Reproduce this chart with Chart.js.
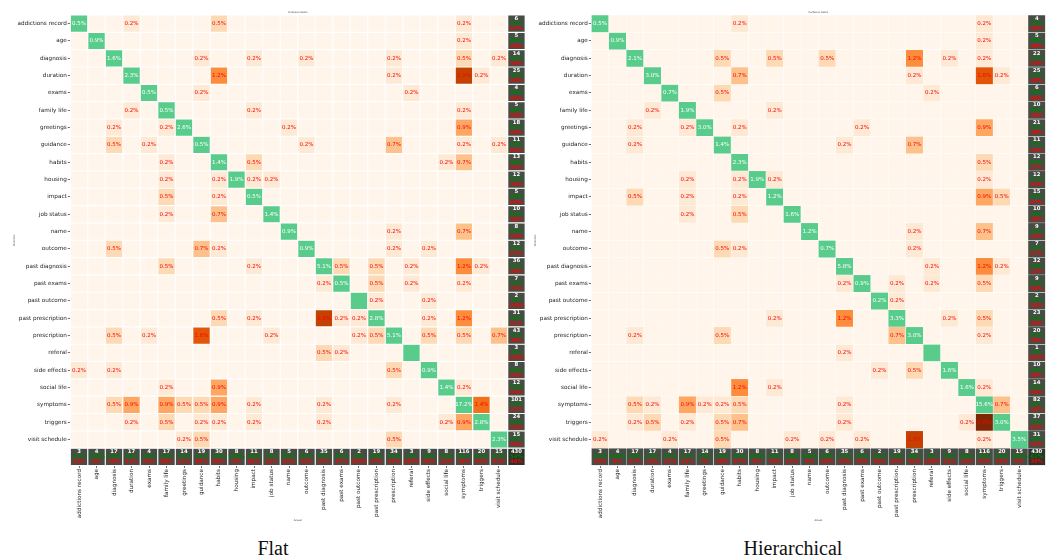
<!DOCTYPE html>
<html>
<head>
<meta charset="utf-8">
<script src="https://cdn.jsdelivr.net/npm/chart.js@4.4.0/dist/chart.umd.min.js"></script>
<style>
  body { margin: 0; background: #fff; width: 1057px; height: 559px; overflow: hidden; position: relative; }
  canvas { position: absolute; top: 0; }
  .cap { position: absolute; top: 537px; font-family: "Liberation Serif", serif; font-size: 20px; color: #111; transform: translateX(-50%); white-space: nowrap; }
</style>
</head>
<body>
<canvas id="flat" width="530" height="530" style="left:0px"></canvas>
<canvas id="hier" width="530" height="530" style="left:521px"></canvas>
<div class="cap" style="left:273px">Flat</div>
<div class="cap" style="left:793px">Hierarchical</div>
<script>
const categories = ['addictions record', 'age', 'diagnosis', 'duration', 'exams', 'family life',
  'greetings', 'guidance', 'habits', 'housing', 'impact', 'job status', 'name', 'outcome',
  'past diagnosis', 'past exams', 'past outcome', 'past prescription', 'prescription', 'referal',
  'side effects', 'social life', 'symptoms', 'triggers', 'visit schedule']

// rows = predicted, columns = actual (counts, 430 samples)
const flatCounts = [
  [2,0,0,1,0,0,0,0,2,0,0,0,0,0,0,0,0,0,0,0,0,0,1,0,0],
  [0,4,0,0,0,0,0,0,0,0,0,0,0,0,0,0,0,0,0,0,0,0,1,0,0],
  [0,0,7,0,0,0,0,1,0,0,1,0,0,1,0,0,0,0,1,0,0,0,2,0,1],
  [0,0,0,10,0,0,0,0,5,0,0,0,0,0,0,0,0,0,1,0,0,0,8,1,0],
  [0,0,0,0,2,0,0,1,0,0,0,0,0,0,0,0,0,0,0,1,0,0,0,0,0],
  [0,0,0,1,0,2,0,0,0,0,1,0,0,0,0,0,0,0,0,0,0,0,1,0,0],
  [0,0,1,0,0,1,11,0,0,0,0,0,1,0,0,0,0,0,0,0,0,0,4,0,0],
  [0,0,2,0,1,0,0,2,0,0,0,0,0,1,0,0,0,0,3,0,0,0,1,0,1],
  [0,0,0,0,0,1,0,0,6,0,2,0,0,0,0,0,0,0,0,0,0,1,3,0,0],
  [0,0,0,0,0,1,0,0,1,8,1,1,0,0,0,0,0,0,0,0,0,0,0,0,0],
  [0,0,0,0,0,2,0,0,1,0,2,0,0,0,0,0,0,0,0,0,0,0,0,0,0],
  [0,0,0,0,0,1,0,0,3,0,0,6,0,0,0,0,0,0,0,0,0,0,0,0,0],
  [0,0,0,0,0,0,0,0,0,0,0,0,4,0,0,0,0,0,1,0,0,0,3,0,0],
  [0,0,2,0,0,0,0,3,1,0,0,0,0,4,0,0,0,0,1,0,1,0,0,0,0],
  [0,0,0,0,0,2,0,0,0,0,1,0,0,0,22,2,0,2,0,1,0,0,5,1,0],
  [0,0,0,0,0,0,0,0,0,0,0,0,0,0,1,2,0,2,0,1,0,0,1,0,0],
  [0,0,0,0,0,0,0,0,0,0,0,0,0,0,0,0,0,1,0,0,1,0,0,0,0],
  [0,0,0,0,0,0,0,0,2,0,1,0,0,0,8,1,1,12,0,0,1,0,5,0,0],
  [0,0,2,0,1,0,0,7,0,0,0,1,0,0,0,0,1,2,22,0,2,0,2,0,3],
  [0,0,0,0,0,0,0,0,0,0,0,0,0,0,2,1,0,0,0,0,0,0,0,0,0],
  [1,0,1,0,0,0,0,0,0,0,0,0,0,0,0,0,0,0,2,0,4,0,0,0,0],
  [0,0,0,0,0,1,0,0,4,0,0,0,0,0,0,0,0,0,0,0,0,6,1,0,0],
  [0,0,2,4,0,4,2,2,4,0,1,0,0,0,1,0,0,0,1,0,0,0,74,6,0],
  [0,0,0,1,0,2,0,1,1,0,1,0,0,0,1,0,0,0,0,0,0,1,4,12,0],
  [0,0,0,0,0,0,1,2,0,0,0,0,0,0,0,0,0,0,2,0,0,0,0,0,10]
]

const hierCounts = [
  [2,0,0,0,0,0,0,0,1,0,0,0,0,0,0,0,0,0,0,0,0,0,1,0,0],
  [0,4,0,0,0,0,0,0,0,0,0,0,0,0,0,0,0,0,0,0,0,0,1,0,0],
  [0,0,9,0,0,0,0,2,0,0,2,0,0,2,0,0,0,0,5,0,1,0,1,0,0],
  [0,0,0,13,0,0,0,0,3,0,0,0,0,0,0,0,0,0,1,0,0,0,7,1,0],
  [0,0,0,0,3,0,0,2,0,0,0,0,0,0,0,0,0,0,0,1,0,0,0,0,0],
  [0,0,0,1,0,8,0,0,0,0,1,0,0,0,0,0,0,0,0,0,0,0,0,0,0],
  [0,0,1,0,0,1,13,0,1,0,0,0,0,0,0,1,0,0,0,0,0,0,4,0,0],
  [0,0,1,0,0,0,0,6,0,0,0,0,0,0,1,0,0,0,3,0,0,0,0,0,0],
  [0,0,0,0,0,0,0,0,10,0,0,0,0,0,0,0,0,0,0,0,0,0,2,0,0],
  [0,0,0,0,0,1,0,0,1,8,1,0,0,0,0,0,0,0,0,0,0,0,1,0,0],
  [0,0,2,0,0,1,0,0,1,0,5,0,0,0,0,0,0,0,0,0,0,0,4,2,0],
  [0,0,0,0,0,1,0,0,2,0,0,7,0,0,0,0,0,0,0,0,0,0,0,0,0],
  [0,0,0,0,0,0,0,0,0,0,0,0,5,0,0,0,0,0,1,0,0,0,3,0,0],
  [0,0,0,0,0,0,0,2,1,0,0,0,0,3,0,0,0,0,1,0,0,0,0,0,0],
  [0,0,0,0,0,0,0,0,0,0,0,0,0,0,25,0,0,0,0,1,0,0,5,1,0],
  [0,0,0,0,0,0,0,0,0,0,0,0,0,0,1,4,0,1,0,1,0,0,2,0,0],
  [0,0,0,0,0,0,0,0,0,0,0,0,0,0,0,0,1,1,0,0,0,0,0,0,0],
  [0,0,0,0,0,0,0,0,0,0,1,0,0,0,5,0,0,14,0,0,1,0,2,0,0],
  [0,0,1,0,0,0,0,2,0,0,0,0,0,0,0,0,0,3,13,0,0,0,1,0,0],
  [0,0,0,0,0,0,0,0,0,0,0,0,0,0,1,0,0,0,0,0,0,0,0,0,0],
  [0,0,0,0,0,0,0,0,0,0,0,0,0,0,0,0,1,0,2,0,7,0,0,0,0],
  [0,0,0,0,0,0,0,0,5,0,1,0,0,0,0,0,0,0,0,0,0,7,1,0,0],
  [0,0,2,1,0,4,1,1,2,0,0,0,0,0,1,0,0,0,0,0,0,0,67,3,0],
  [0,0,1,2,0,1,0,2,3,0,0,0,0,0,1,0,0,0,0,0,0,1,13,13,0],
  [1,0,0,0,1,0,0,2,0,0,0,1,0,1,0,1,0,0,8,0,0,0,1,0,15]
]

const oranges = ['#fff5eb', '#fee6ce', '#fdd0a2', '#fdae6b', '#fd8d3c', '#f16913', '#d94801', '#a63603', '#7f2704']

function hexRgb(h) {
  return [1, 3, 5].map(i => parseInt(h.slice(i, i + 2), 16))
}

function orangeAt(t) {
  const pos = t * (oranges.length - 1)
  const i = Math.min(Math.floor(pos), oranges.length - 2)
  const f = pos - i
  const a = hexRgb(oranges[i]), b = hexRgb(oranges[i + 1])
  const c = a.map((v, k) => Math.round(v + (b[k] - v) * f))
  return `rgb(${c[0]},${c[1]},${c[2]})`
}

const labelFont = { family: 'DejaVu Sans', size: 5.7 }

function renderMatrix(id, counts, gap, padRight) {
  const n = categories.length
  const rowTot = counts.map(r => r.reduce((a, b) => a + b, 0))
  const colTot = categories.map((_, c) => counts.reduce((a, r) => a + r[c], 0))
  const total = rowTot.reduce((a, b) => a + b, 0)
  const diagSum = counts.reduce((a, r, i) => a + r[i], 0)

  const datasets = []
  for (let r = 0; r <= n; r++) {
    const data = []
    const colors = []
    for (let c = 0; c <= n; c++) {
      data.push([r - 0.5, r + 0.5])
      let col
      if (r === n && c === n) col = '#2b332b'
      else if (r === n || c === n) col = '#454d45'
      else if (r === c) col = '#59cc8c'
      else col = orangeAt(Math.min(counts[r][c] / 10, 1))
      colors.push(col)
    }
    datasets.push({
      data: data,
      backgroundColor: colors,
      borderColor: '#ffffff',
      borderWidth: gap,
      borderSkipped: false,
      grouped: false,
      barPercentage: 1,
      categoryPercentage: 1
    })
  }

  const cellText = {
    id: 'cellText',
    afterDatasetsDraw(chart) {
      const ctx = chart.ctx
      ctx.save()
      ctx.textAlign = 'center'
      ctx.textBaseline = 'middle'
      for (let r = 0; r <= n; r++) {
        chart.getDatasetMeta(r).data.forEach((el, c) => {
          const x = el.x
          const y = (el.y + el.base) / 2
          if (r < n && c < n) {
            const v = counts[r][c]
            if (!v) return
            ctx.font = '5.5px "DejaVu Sans"'
            ctx.fillStyle = r === c ? '#ffffff' : '#ff0000'
            ctx.fillText((v / total * 100).toFixed(1) + '%', x, y)
          } else {
            let tot, ok
            if (r === n && c === n) { tot = total; ok = diagSum }
            else if (c === n) { tot = rowTot[r]; ok = counts[r][r] }
            else { tot = colTot[c]; ok = counts[c][c] }
            const okP = tot ? Math.round(ok / tot * 100) : 0
            const errP = tot ? Math.round((tot - ok) / tot * 100) : 0
            ctx.font = 'bold 5.3px "DejaVu Sans"'
            ctx.fillStyle = '#ffffff'
            ctx.fillText(String(tot), x, y - 5.2)
            ctx.fillStyle = '#008000'
            ctx.fillText(okP + '%', x, y)
            ctx.fillStyle = '#ff0000'
            ctx.fillText(errP + '%', x, y + 5.2)
          }
        })
      }
      ctx.restore()
    }
  }

  new Chart(document.getElementById(id), {
    type: 'bar',
    data: { labels: categories.concat(['']), datasets: datasets },
    plugins: [cellText],
    options: {
      responsive: false,
      animation: false,
      events: [],
      layout: { padding: { left: 0, right: padRight, top: 0, bottom: 5 } },
      plugins: {
        legend: { display: false },
        tooltip: { enabled: false },
        title: {
          display: true,
          text: 'Confusion matrix',
          fullSize: false,
          color: '#333',
          font: { family: 'DejaVu Sans', size: 2.3, weight: 'normal' },
          padding: { top: 11, bottom: 1.24 }
        }
      },
      scales: {
        x: {
          type: 'category',
          offset: true,
          grid: {
            drawOnChartArea: false,
            offset: false,
            tickLength: 2.5,
            tickWidth: 0.7,
            tickColor: ctx => ctx.index === n ? 'rgba(0,0,0,0)' : '#333'
          },
          border: { display: false },
          ticks: { autoSkip: false, minRotation: 90, maxRotation: 90, padding: 1, color: '#222', font: labelFont },
          title: {
            display: true,
            text: 'Actual',
            color: '#333',
            font: { family: 'DejaVu Sans', size: 2.5 },
            padding: { top: 0, bottom: 2.8 }
          },
          afterFit: s => { s.height = 59.5 }
        },
        y: {
          type: 'linear',
          reverse: true,
          min: -0.5,
          max: n + 0.5,
          afterBuildTicks: s => { s.ticks = categories.map((_, i) => ({ value: i })) },
          grid: { drawOnChartArea: false, tickLength: 2.5, tickWidth: 0.7, tickColor: '#333' },
          border: { display: false },
          ticks: { autoSkip: false, padding: 1, color: '#222', font: labelFont, callback: v => categories[v] },
          title: {
            display: true,
            text: 'Predicted',
            color: '#333',
            font: { family: 'DejaVu Sans', size: 2.5 },
            padding: { top: 13.3, bottom: 0 }
          },
          afterFit: s => { s.width = 70.3 }
        }
      }
    }
  })
}

renderMatrix('flat', flatCounts, 0.9, 4.8)
renderMatrix('hier', hierCounts, 0.5, 5.5)
</script>
</body>
</html>
